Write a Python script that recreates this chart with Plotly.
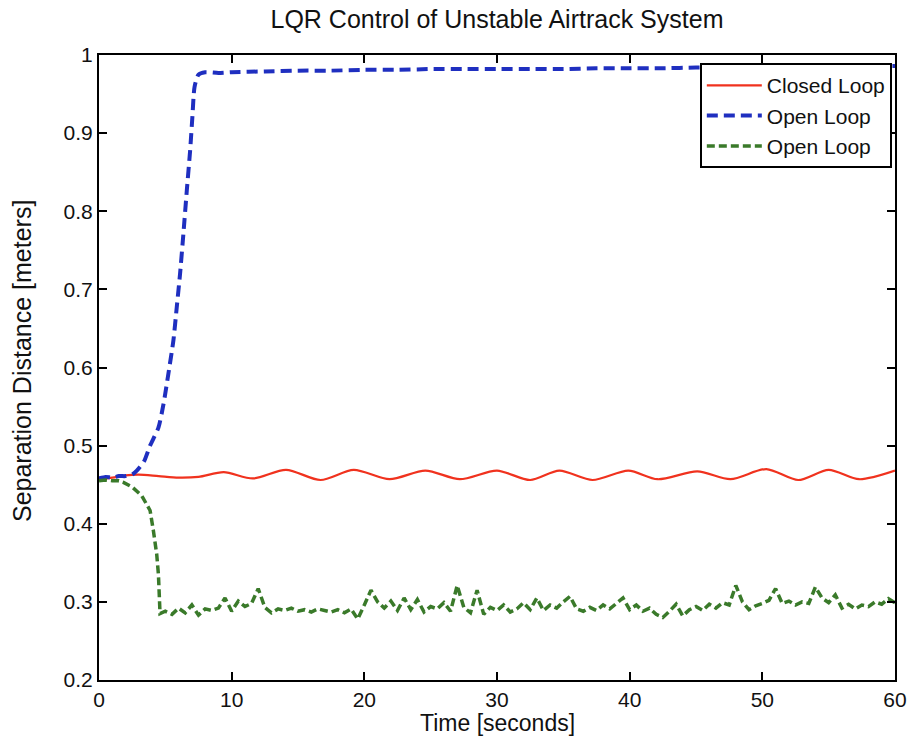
import plotly.graph_objects as go

# ---- data -------------------------------------------------------------
# Closed loop response (peaks/troughs of the oscillation about 0.46 m)
closed_t = [0, 1, 2, 3, 4.5, 6, 7.5, 9.4, 11.6, 14.1, 16.7, 19.2, 21.9, 24.6,
            27.2, 30.0, 32.5, 34.7, 37.2, 39.9, 42.1, 45.1, 47.6, 50.3, 52.7,
            55.0, 57.3, 60]
closed_y = [0.457, 0.459, 0.462, 0.463, 0.461, 0.459, 0.460, 0.466, 0.458,
            0.469, 0.456, 0.469, 0.457, 0.468, 0.457, 0.468, 0.456, 0.468,
            0.456, 0.468, 0.457, 0.467, 0.457, 0.470, 0.456, 0.469, 0.457,
            0.468]

# Open loop run 1: cart drifts to the far end of the track
open1_t = [0, 0.5, 1, 1.5, 2, 2.5, 2.85, 3.4, 3.85, 4.48, 4.86, 5.23, 5.61,
           5.86, 6.11, 6.36, 6.62, 6.87, 7.04, 7.2, 7.5, 8, 9, 10, 12.5, 15,
           17.5, 20, 22.5, 25, 27.5, 30, 32.5, 35, 37.5, 40, 42.5, 45, 47.5,
           50, 52.5, 55, 57.5, 60]
open1_y = [0.458, 0.460, 0.459, 0.461, 0.461, 0.463, 0.468, 0.480, 0.500,
           0.523, 0.553, 0.592, 0.635, 0.677, 0.720, 0.771, 0.827, 0.878,
           0.921, 0.959, 0.975, 0.978, 0.977, 0.978, 0.979, 0.980, 0.980,
           0.981, 0.981, 0.982, 0.982, 0.982, 0.982, 0.982, 0.983, 0.983,
           0.983, 0.984, 0.984, 0.984, 0.985, 0.985, 0.985, 0.986]

# Open loop run 2: cart collapses toward the near end, then sensor noise
open2_fall_t = [0, 0.5, 1, 1.5, 1.84, 2.5, 3.22, 3.85, 4.1, 4.35, 4.48, 4.53,
                4.6]
open2_fall_y = [0.455, 0.456, 0.455, 0.455, 0.453, 0.447, 0.436, 0.417, 0.391,
                0.361, 0.335, 0.309, 0.285]
open2_noise_start = 5.0
open2_noise_step = 0.5
open2_noise_y = [
    0.288, 0.284, 0.292, 0.286, 0.296, 0.283, 0.291, 0.289, 0.292, 0.305,
    0.288, 0.301, 0.294, 0.298, 0.317, 0.293, 0.286, 0.291, 0.289, 0.292,
    0.288, 0.290, 0.287, 0.291, 0.289, 0.287, 0.290, 0.286, 0.291, 0.278,
    0.296, 0.315, 0.300, 0.292, 0.301, 0.289, 0.305, 0.290, 0.303, 0.287,
    0.294, 0.291, 0.299, 0.288, 0.321, 0.293, 0.286, 0.315, 0.284, 0.293,
    0.289, 0.296, 0.287, 0.291, 0.299, 0.290, 0.305, 0.289, 0.296, 0.292,
    0.300, 0.307, 0.291, 0.288, 0.293, 0.289, 0.296, 0.291, 0.298, 0.305,
    0.290, 0.296, 0.288, 0.292, 0.284, 0.280, 0.288, 0.297, 0.282, 0.290,
    0.294, 0.289, 0.297, 0.292, 0.299, 0.296, 0.321, 0.300, 0.290, 0.295,
    0.298, 0.302, 0.317, 0.298, 0.301, 0.296, 0.300, 0.298, 0.319, 0.305,
    0.299, 0.309, 0.292, 0.297, 0.291, 0.296, 0.294, 0.300, 0.297, 0.304,
    0.299,
]
open2_t = open2_fall_t + [open2_noise_start + open2_noise_step * i
                          for i in range(len(open2_noise_y))]
open2_y = open2_fall_y + open2_noise_y

x_ticks = [0, 10, 20, 30, 40, 50, 60]
y_ticks = [0.2, 0.3, 0.4, 0.5, 0.6, 0.7, 0.8, 0.9, 1.0]
y_tick_text = ["0.2", "0.3", "0.4", "0.5", "0.6", "0.7", "0.8", "0.9", "1"]

# ---- figure -----------------------------------------------------------
FONT = "Liberation Sans, Arial, Helvetica, sans-serif"
INK = "#111"

fig = go.Figure()
fig.add_trace(go.Scatter(
    x=closed_t, y=closed_y, mode="lines", name="Closed Loop",
    line=dict(color="#f0321e", width=2.2, shape="spline", smoothing=0.8)))
fig.add_trace(go.Scatter(
    x=open1_t, y=open1_y, mode="lines", name="Open Loop",
    line=dict(color="#1f2fc0", width=4, dash="11px,6px", shape="spline",
              smoothing=0.6)))
fig.add_trace(go.Scatter(
    x=open2_t, y=open2_y, mode="lines", name="Open Loop",
    line=dict(color="#3a7a2a", width=3.5, dash="8px,4px")))

axis_common = dict(
    showline=True, linecolor="black", linewidth=2, mirror="ticks",
    ticks="inside", ticklen=8, tickwidth=2, tickcolor="black",
    showgrid=False, zeroline=False, automargin=False,
    tickfont=dict(family=FONT, size=21, color=INK),
)

fig.update_layout(
    width=910, height=742,
    margin=dict(l=99, r=15, t=55, b=62),
    paper_bgcolor="white", plot_bgcolor="white",
    title=dict(text="LQR Control of Unstable Airtrack System",
               x=0.5, xref="paper", xanchor="center",
               y=1 - 19 / 742, yref="container", yanchor="middle",
               font=dict(family=FONT, size=25, color=INK)),
    xaxis=dict(range=[0, 60], tickvals=x_ticks, **axis_common),
    yaxis=dict(range=[0.2, 1.0], tickvals=y_ticks, ticktext=y_tick_text,
               **axis_common),
    legend=dict(x=0.996, y=0.987, xanchor="right", yanchor="top",
                bgcolor="white", bordercolor="black", borderwidth=2,
                font=dict(family=FONT, size=21, color=INK),
                itemwidth=55, tracegroupgap=0),
    showlegend=True,
)

# Axis titles placed as paper-anchored labels for tight spacing
fig.add_annotation(text="Time [seconds]", xref="paper", yref="paper",
                   x=0.5, y=-0.0685, xanchor="center", yanchor="middle",
                   showarrow=False,
                   font=dict(family=FONT, size=23, color=INK))
fig.add_annotation(text="Separation Distance [meters]", xref="paper",
                   yref="paper", x=-0.097, y=0.51, xanchor="center",
                   yanchor="middle", textangle=-90, showarrow=False,
                   font=dict(family=FONT, size=25, color=INK))

fig.write_html("out.html")
